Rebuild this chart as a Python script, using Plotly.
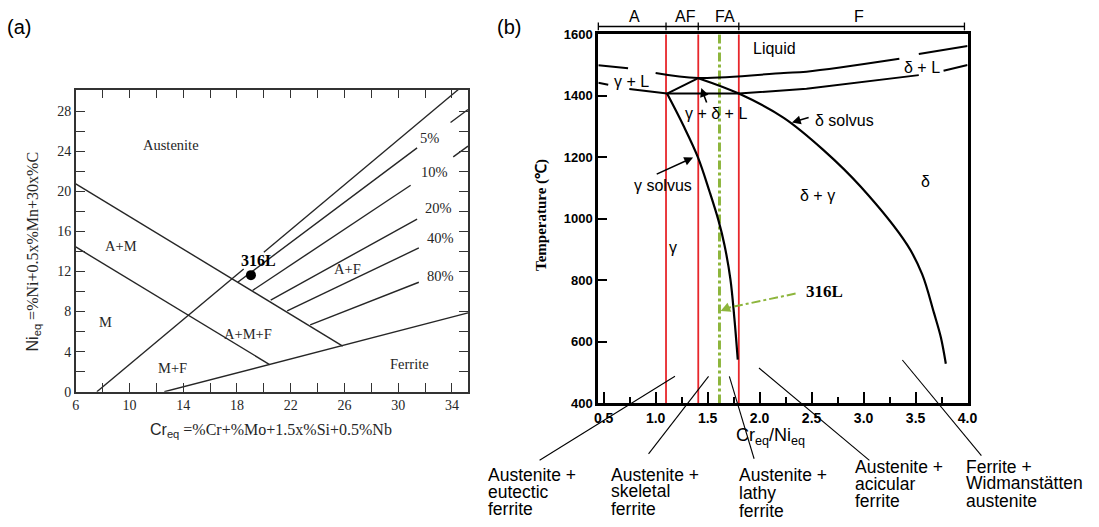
import plotly.graph_objects as go

FIG_W, FIG_H = 1099, 527
SERIF = "Liberation Serif, Times New Roman, serif"
SANS = "Liberation Sans, Arial, sans-serif"
INK = "#262626"

# ---------------- (a) Schaeffler diagram: Cr_eq (x) vs Ni_eq (y) ----------------
m_am_cr = [6.0, 20.43]            # M | A+M boundary
m_am_ni = [14.44, 2.71]
aus_cr = [6.0, 25.87]             # Austenite / A+M / A+F boundary
aus_ni = [20.74, 4.55]
ferrite_cr = [12.59, 35.2]        # lower ferrite boundary
ferrite_ni = [0.0, 7.87]
zero_cr = [7.57, 18.5, None, 20.0, 34.48]   # 0 % ferrite line, broken at the 316L tag
zero_ni = [0.0, 12.24, None, 13.92, 30.14]

iso_names = ["5%", "10%", "20%", "40%", "80%"]
iso_start_cr = [18.08, 19.16, 20.51, 21.74, 23.45]
iso_start_ni = [10.95, 10.10, 9.14, 8.07, 6.66]
iso_end_cr = [31.41, 30.93, 31.41, 31.54, 31.54]
iso_end_ni = [24.32, 20.60, 17.22, 14.34, 10.92]
iso_tail_cr = [[33.9, 35.2], [34.1, 35.2]]   # 5 % and 10 % lines resume past their labels
iso_tail_ni = [[26.85, 28.15], [23.43, 24.50]]

alloy_cr = [19.04]
alloy_ni = [11.63]

a_x_ticks = list(range(6, 35, 2))
a_y_ticks = list(range(0, 29, 2))

# ---------------- (b) pseudo-binary section: Cr_eq/Ni_eq vs temperature ----------------
liq_r = [[0.449, 0.735], [1.0, 1.41, 2.232, 2.451, 3.344], [3.531, 4.0]]
liq_t = [[1499, 1489], [1474, 1458, 1474, 1478, 1520], [1536, 1562]]
sol_r = [[0.449, 0.544], [0.747, 1.11, 1.80, 2.137, 2.451, 3.531], [3.769, 4.0]]
sol_t = [[1442, 1436], [1422, 1407, 1407, 1415, 1423, 1467], [1481, 1500]]
tri_r = [1.11, 1.41]
tri_t = [1407, 1457]
delta_solvus_r = [1.41, 1.80, 2.232, 2.612, 2.973, 3.420, 3.563, 3.677, 3.743, 3.791]
delta_solvus_t = [1457, 1407, 1328, 1224, 1104, 915, 820, 694, 615, 529]
gamma_solvus_r = [1.11, 1.267, 1.408, 1.519, 1.605, 1.662, 1.719, 1.757, 1.790]
gamma_solvus_t = [1407, 1303, 1199, 1088, 994, 915, 804, 678, 542]

mode_bounds = [1.10, 1.41, 1.80]        # A | AF | FA | F
mode_names = ["A", "AF", "FA", "F"]
mode_label_r = [0.80, 1.285, 1.67, 2.96]
alloy_ratio = 1.614                     # 316L

b_x_ticks = [0.5, 1.0, 1.5, 2.0, 2.5, 3.0, 3.5, 4.0]
b_x_minor = [0.75, 1.25, 1.75, 2.25, 2.75, 3.25, 3.75]
b_y_ticks = [400, 600, 800, 1000, 1200, 1400, 1600]

morphologies = [
    ("Austenite +", "eutectic", "ferrite"),
    ("Austenite +", "skeletal", "ferrite"),
    ("Austenite +", "lathy", "ferrite"),
    ("Austenite +", "acicular", "ferrite"),
    ("Ferrite +", "Widmanstätten", "austenite"),
]
# leader lines: point in the diagram -> toward its caption (ratio, °C)
leader_from = [(1.186, 488), (1.509, 488), (1.709, 488), (1.994, 515), (3.373, 541)]
leader_to = [(-0.116, 215), (0.932, 236), (1.947, 220), (3.056, 215), (4.133, 230)]

# ---------------- layout geometry ----------------
XA_DOM = [72.7 / FIG_W, 470 / FIG_W]
YA_DOM = [1 - 396 / FIG_H, 1 - 85 / FIG_H]
XA_RNG = [6, 35.2]
YA_RNG = [0, 30.14]
XB_DOM = [602 / FIG_W, 976 / FIG_W]
YB_DOM = [1 - 408 / FIG_H, 1 - 28 / FIG_H]
XB_RNG = [0.449, 4.0]
YB_RNG = [400, 1600]


def b_paper(r, t):
    px = XB_DOM[0] + (r - XB_RNG[0]) / (XB_RNG[1] - XB_RNG[0]) * (XB_DOM[1] - XB_DOM[0])
    py = YB_DOM[0] + (t - YB_RNG[0]) / (YB_RNG[1] - YB_RNG[0]) * (YB_DOM[1] - YB_DOM[0])
    return px, py


def note(text, x, y, xref="paper", yref="paper", size=16, family=SANS, color="black",
         xanchor="center", yanchor="middle", angle=0):
    return dict(text=text, x=x, y=y, xref=xref, yref=yref, xanchor=xanchor, yanchor=yanchor,
                textangle=angle, showarrow=False, font=dict(family=family, size=size, color=color))


fig = go.Figure()


def add_line(xs, ys, xa, ya, color=INK, width=1.4, dash="solid", shape="linear"):
    fig.add_trace(go.Scatter(x=xs, y=ys, xaxis=xa, yaxis=ya, mode="lines",
                             line=dict(color=color, width=width, dash=dash, shape=shape),
                             hoverinfo="skip", showlegend=False))


# ---- panel (a) ----
add_line(m_am_cr, m_am_ni, "x", "y")
add_line(aus_cr, aus_ni, "x", "y")
add_line(ferrite_cr, ferrite_ni, "x", "y")
add_line(zero_cr, zero_ni, "x", "y")
for i in range(len(iso_names)):
    add_line([iso_start_cr[i], iso_end_cr[i]], [iso_start_ni[i], iso_end_ni[i]], "x", "y")
for tx, ty in zip(iso_tail_cr, iso_tail_ni):
    add_line(tx, ty, "x", "y")
fig.add_trace(go.Scatter(x=alloy_cr, y=alloy_ni, xaxis="x", yaxis="y", mode="markers",
                         marker=dict(color="black", size=10), hoverinfo="skip", showlegend=False))

a_labels = [("Austenite", 13.08, 24.6), ("A+M", 9.4, 14.5), ("M", 8.23, 6.98),
            ("M+F", 13.23, 2.33), ("A+M+F", 18.82, 5.72), ("A+F", 26.24, 12.21),
            ("Ferrite", 30.87, 2.81)]
iso_label_pos = [(32.35, 25.29), (32.68, 21.9), (33.0, 18.31), (33.12, 15.31), (33.12, 11.53)]
annotations = []
for txt, x, y in a_labels:
    annotations.append(note(txt, x, y, "x", "y", size=14.5, family=SERIF, color=INK))
for name, (x, y) in zip(iso_names, iso_label_pos):
    annotations.append(note(name, x, y, "x", "y", size=14.5, family=SERIF, color=INK))
annotations.append(note("<b>316L</b>", 19.63, 13.1, "x", "y", size=16, family=SERIF))
annotations.append(note(
    "<span style='font-family:Liberation Sans'>Ni<sub>eq</sub></span> =%Ni+0.5x%Mn+30x%C",
    30 / FIG_W, 1 - 252 / FIG_H, size=16, family=SERIF, color=INK, angle=-90))
annotations.append(note(
    "<span style='font-family:Liberation Sans'>Cr<sub>eq</sub></span> =%Cr+%Mo+1.5x%Si+0.5%Nb",
    270 / FIG_W, 1 - 436 / FIG_H, size=16, family=SERIF, color=INK))
annotations.append(note("(a)", 15 / FIG_W, 1 - 21 / FIG_H, size=20))
annotations.append(note("(b)", 512 / FIG_W, 1 - 21 / FIG_H, size=20))

# ---- panel (b) ----
shapes = []
for r in mode_bounds:
    add_line([r, r], YB_RNG, "x2", "y2", color="#e8262b", width=1.8)
add_line([alloy_ratio, alloy_ratio], YB_RNG, "x2", "y2", color="#8db53c", width=3, dash="dashdot")
for rs, ts in zip(liq_r, liq_t):
    add_line(rs, ts, "x2", "y2", color="black", width=2, shape="spline")
for rs, ts in zip(sol_r, sol_t):
    add_line(rs, ts, "x2", "y2", color="black", width=2)
add_line(tri_r, tri_t, "x2", "y2", color="black", width=2)
add_line(delta_solvus_r, delta_solvus_t, "x2", "y2", color="black", width=2.2, shape="spline")
add_line(gamma_solvus_r, gamma_solvus_t, "x2", "y2", color="black", width=2.2, shape="spline")
# 316L pointer (dash-dot green)
add_line([2.346, 1.66], [757, 708], "x2", "y2", color="#8db53c", width=2, dash="dashdot")
annotations.append(dict(x=1.625, y=700, ax=1.70, ay=711, xref="x2", yref="y2", axref="x2", ayref="y2",
                        text="", showarrow=True, arrowhead=2, arrowsize=1.2, arrowwidth=1.6,
                        arrowcolor="#8db53c"))

b_labels = [("Liquid", 2.146, 1553), ("δ + L", 3.563, 1493), ("γ + L", 0.768, 1445),
            ("γ + δ + L", 1.576, 1341), ("γ solvus", 1.072, 1107), ("δ solvus", 2.817, 1319),
            ("δ + γ", 2.555, 1076), ("δ", 3.591, 1120), ("γ", 1.167, 908)]
for txt, r, t in b_labels:
    annotations.append(note(txt, r, t, "x2", "y2", size=16))
annotations.append(note("<b>316L</b>", 2.43, 763, "x2", "y2", size=17, family=SERIF, xanchor="left"))
# pointer arrows to the solvus lines and the three-phase field
for (hr, ht), (tr, tt) in [((1.360, 1199), (0.996, 1143)), ((1.439, 1425), (1.496, 1373)),
                           ((2.311, 1313), (2.486, 1331))]:
    annotations.append(dict(x=hr, y=ht, ax=tr, ay=tt, xref="x2", yref="y2", axref="x2", ayref="y2",
                            text="", showarrow=True, arrowhead=2, arrowsize=1.1, arrowwidth=1.6,
                            arrowcolor="black"))

annotations.append(note("<b>Temperature (℃)</b>", 545 / FIG_W, 1 - 214 / FIG_H, size=15,
                        family=SERIF, angle=-90))
annotations.append(note("Cr<sub>eq</sub>/Ni<sub>eq</sub>", 776 / FIG_W, 1 - 442 / FIG_H, size=18))

# solidification-mode bar above the diagram
bar_y = YB_DOM[1] + 8 / FIG_H
bar_edges = [XB_RNG[0]] + mode_bounds + [XB_RNG[1] - 0.03]
x0, _ = b_paper(bar_edges[0], 1600)
x1, _ = b_paper(bar_edges[-1], 1600)
shapes.append(dict(type="line", xref="paper", yref="paper", x0=x0, x1=x1, y0=bar_y, y1=bar_y,
                   line=dict(color="black", width=1.5)))
for r in bar_edges:
    px, _ = b_paper(r, 1600)
    shapes.append(dict(type="line", xref="paper", yref="paper", x0=px, x1=px,
                       y0=bar_y - 4 / FIG_H, y1=bar_y + 4 / FIG_H, line=dict(color="black", width=1.3)))
for name, r in zip(mode_names, mode_label_r):
    px, _ = b_paper(r, 1600)
    annotations.append(note(name, px, 1 - 10 / FIG_H, size=16))

# leader lines and morphology captions
for (r0, t0), (r1, t1) in zip(leader_from, leader_to):
    ax0, ay0 = b_paper(r0, t0)
    ax1, ay1 = b_paper(r1, t1)
    shapes.append(dict(type="line", xref="paper", yref="paper", x0=ax0, y0=ay0, x1=ax1, y1=ay1,
                       line=dict(color="black", width=1.1)))
caption_left = [488, 613, 742, 860, 972]
caption_rows = [(482, 499, 517), (482, 498, 517), (482, 500, 519), (473, 491, 508), (473, 490, 508)]
for lines, left, rows in zip(morphologies, caption_left, caption_rows):
    for txt, row in zip(lines, rows):
        annotations.append(note(txt, left / FIG_W, 1 - row / FIG_H, size=17.5, xanchor="left"))

fig.update_layout(
    width=FIG_W, height=FIG_H, margin=dict(l=0, r=0, t=0, b=0),
    paper_bgcolor="white", plot_bgcolor="white", showlegend=False,
    annotations=annotations, shapes=shapes,
    xaxis=dict(domain=XA_DOM, range=XA_RNG, anchor="y", tickvals=a_x_ticks,
               ticktext=[str(v) if (v - 6) % 4 == 0 else "" for v in a_x_ticks],
               ticks="inside", ticklen=9, tickwidth=1.3, tickcolor="#333",
               showline=True, linecolor="#333", linewidth=1.6, mirror="ticks",
               showgrid=False, zeroline=False, tickfont=dict(family=SERIF, size=14, color=INK)),
    yaxis=dict(domain=YA_DOM, range=YA_RNG, anchor="x", tickvals=a_y_ticks,
               ticktext=[str(v) if v % 4 == 0 else "" for v in a_y_ticks],
               ticks="inside", ticklen=9, tickwidth=1.3, tickcolor="#333",
               showline=True, linecolor="#333", linewidth=1.6, mirror="ticks",
               showgrid=False, zeroline=False, tickfont=dict(family=SERIF, size=14, color=INK)),
    xaxis2=dict(domain=XB_DOM, range=XB_RNG, anchor="y2", tickvals=b_x_ticks,
                ticktext=[f"{v:.1f}" for v in b_x_ticks],
                ticks="inside", ticklen=11, tickwidth=2, tickcolor="black",
                minor=dict(tickvals=b_x_minor, ticks="inside", ticklen=6, tickwidth=1.5,
                           tickcolor="black"),
                showline=True, linecolor="black", linewidth=3, mirror=True,
                showgrid=False, zeroline=False,
                tickfont=dict(family=SANS, size=14, color="black", weight="bold")),
    yaxis2=dict(domain=YB_DOM, range=YB_RNG, anchor="x2", tickvals=b_y_ticks,
                ticks="inside", ticklen=9, tickwidth=2, tickcolor="black",
                showline=True, linecolor="black", linewidth=3, mirror=True,
                showgrid=False, zeroline=False,
                tickfont=dict(family=SANS, size=13, color="black", weight="bold")),
)

fig.write_html("out.html")
